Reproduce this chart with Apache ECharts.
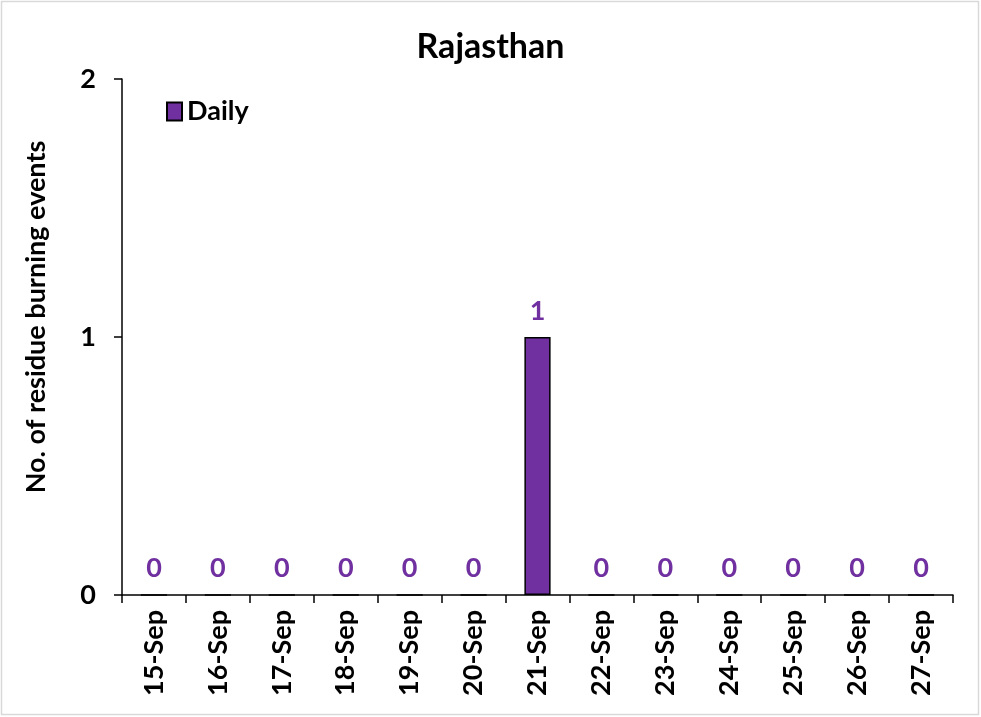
<!DOCTYPE html>
<html>
  <head>
    <meta charset="utf-8" />
    <script src="https://cdn.jsdelivr.net/npm/echarts@6.0.0/dist/echarts.min.js"></script>
    <style>
      html, body { margin: 0; padding: 0; background: #fff; }
      #main { width: 981px; height: 717px; }
    </style>
  </head>
  <body>
    <div id="main"></div>

    <script type="text/javascript">
      var dates = ["15-Sep", "16-Sep", "17-Sep", "18-Sep", "19-Sep", "20-Sep", "21-Sep",
                   "22-Sep", "23-Sep", "24-Sep", "25-Sep", "26-Sep", "27-Sep"];
      var daily = [0, 0, 0, 0, 0, 0, 1, 0, 0, 0, 0, 0, 0];
      var yTicks = { min: 0, max: 2, interval: 1 };

      var myChart = echarts.init(document.getElementById("main"));
      var font = "Lato, 'Open Sans', sans-serif";

      var option = {
        animation: false,
        backgroundColor: "#fff",
        textStyle: { fontFamily: font },
        graphic: [{
          type: "rect",
          shape: { x: 1.5, y: 1.5, width: 977, height: 713 },
          style: { fill: "none", stroke: "#d9d9d9", lineWidth: 1.5 },
          silent: true
        }],
        title: {
          text: "Rajasthan",
          left: "center",
          top: 25,
          textStyle: { fontFamily: font, fontSize: 34, fontWeight: "bold", color: "#000" }
        },
        legend: {
          data: ["Daily"],
          icon: "rect",
          left: 161,
          top: 93,
          itemWidth: 15,
          itemHeight: 18,
          itemGap: 4,
          textStyle: { fontFamily: font, fontSize: 27, fontWeight: "bold", color: "#000" }
        },
        grid: { left: 122, right: 28, top: 79, bottom: 122 },
        xAxis: {
          type: "category",
          data: dates,
          axisLine: { lineStyle: { color: "#000", width: 1.5 } },
          axisTick: { show: true, length: 8, lineStyle: { color: "#000", width: 1.5 } },
          axisLabel: {
            rotate: 90,
            interval: 0,
            margin: 15,
            fontFamily: font,
            fontSize: 27,
            fontWeight: "bold",
            color: "#000"
          },
          splitLine: { show: false }
        },
        yAxis: {
          type: "value",
          min: yTicks.min,
          max: yTicks.max,
          interval: yTicks.interval,
          name: "No. of residue burning events",
          nameLocation: "middle",
          nameGap: 72,
          nameTextStyle: {
            fontFamily: font, fontSize: 27, fontWeight: "bold", color: "#000",
            padding: [0, 0, 0, 40]
          },
          axisLine: { show: true, lineStyle: { color: "#000", width: 1.5 } },
          axisTick: { show: true, length: 8, lineStyle: { color: "#000", width: 1.5 } },
          axisLabel: { margin: 26, fontFamily: font, fontSize: 27, fontWeight: "bold", color: "#000" },
          splitLine: { show: false }
        },
        series: [{
          name: "Daily",
          type: "bar",
          data: daily,
          barWidth: "41%",
          itemStyle: { color: "#7030A0", borderColor: "#000", borderWidth: 1.5 },
          label: {
            show: true,
            position: "top",
            distance: 12,
            fontFamily: font,
            fontSize: 27,
            fontWeight: "bold",
            color: "#7030A0"
          }
        }]
      };

      myChart.setOption(option);
    </script>
  </body>
</html>
